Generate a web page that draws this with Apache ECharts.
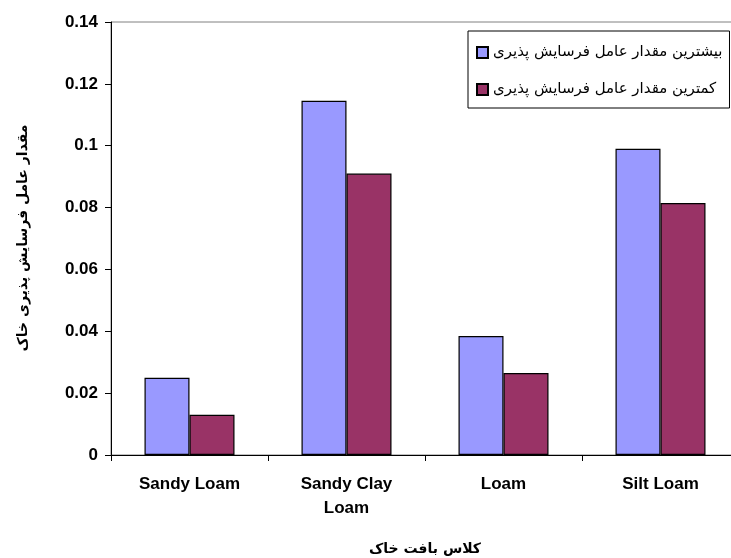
<!DOCTYPE html>
<html>
<head>
<meta charset="utf-8">
<script src="https://cdn.jsdelivr.net/npm/echarts@6/dist/echarts.min.js"></script>
<style>
  html, body { margin: 0; padding: 0; background: #fff; overflow: hidden; }
  #wrap { width: 731px; height: 558px; overflow: hidden; }
  /* the plot area runs past the right edge, so the canvas is wider than the view */
  #chart { width: 760px; height: 558px; }
</style>
</head>
<body>
<div id="wrap"><div id="chart"></div></div>
<script>
// Soil texture classes and erodibility factor values
const categories = ['Sandy Loam', 'Sandy Clay\nLoam', 'Loam', 'Silt Loam'];
const maxSeriesName = 'بیشترین مقدار عامل فرسایش پذیری';
const minSeriesName = 'کمترین مقدار عامل فرسایش پذیری';
const maxValues = [0.025, 0.1145, 0.0385, 0.099];
const minValues = [0.013, 0.091, 0.0265, 0.0815];
const yTickLabels = ['0', '0.02', '0.04', '0.06', '0.08', '0.1', '0.12', '0.14'];
const yAxisTitle = 'مقدار عامل فرسایش پذیری خاک';
const xAxisTitle = 'کلاس بافت خاک';

const latin = '"Liberation Sans", Arial, sans-serif';
const persian = '"DejaVu Sans", "Noto Sans", sans-serif';

const chart = echarts.init(document.getElementById('chart'), null, { renderer: 'canvas' });

chart.setOption({
  animation: false,
  backgroundColor: '#ffffff',
  grid: {
    left: 111, top: 22, width: 628, height: 433,
    show: true, borderColor: '#808080', borderWidth: 1, backgroundColor: 'transparent'
  },
  legend: {
    left: 468, top: 31,
    orient: 'vertical',
    align: 'left',
    itemWidth: 11, itemHeight: 11, itemGap: 22,
    padding: [14, 7, 11, 8],
    borderColor: '#000', borderWidth: 1,
    backgroundColor: '#fff',
    textStyle: { fontFamily: persian, fontSize: 15, color: '#000' },
    data: [
      { name: maxSeriesName, icon: 'rect' },
      { name: minSeriesName, icon: 'rect' }
    ]
  },
  xAxis: {
    type: 'category',
    data: categories,
    axisLine: { lineStyle: { color: '#000', width: 1 } },
    axisTick: { show: true, alignWithLabel: false, length: 6, lineStyle: { color: '#000' } },
    axisLabel: {
      margin: 17,
      fontFamily: latin, fontSize: 17, fontWeight: 'bold', color: '#000',
      lineHeight: 24, interval: 0
    },
    splitLine: { show: false }
  },
  yAxis: {
    type: 'value',
    min: 0, max: 0.14, interval: 0.02,
    axisLine: { show: true, lineStyle: { color: '#000', width: 1 } },
    axisTick: { show: true, inside: false, length: 6, lineStyle: { color: '#000' } },
    axisLabel: {
      margin: 13,
      fontFamily: latin, fontSize: 17, fontWeight: 'bold', color: '#000',
      formatter: v => yTickLabels[Math.round(v / 0.02)]
    },
    splitLine: { show: false }
  },
  graphic: [
    {
      type: 'text',
      rotation: Math.PI / 2,
      x: 23, y: 238,
      style: {
        text: yAxisTitle,
        font: 'bold 14px ' + persian,
        fill: '#000',
        align: 'center', verticalAlign: 'middle'
      }
    },
    {
      type: 'text',
      x: 425, y: 549,
      style: {
        text: xAxisTitle,
        font: 'bold 14px ' + persian,
        fill: '#000',
        align: 'center', verticalAlign: 'middle'
      }
    }
  ],
  series: [
    {
      name: maxSeriesName,
      type: 'bar',
      data: maxValues,
      barWidth: 45,
      barGap: '0%',
      itemStyle: { color: '#9999FF', borderColor: '#000', borderWidth: 1.2 }
    },
    {
      name: minSeriesName,
      type: 'bar',
      data: minValues,
      barWidth: 45,
      barGap: '0%',
      itemStyle: { color: '#993366', borderColor: '#000', borderWidth: 1.2 }
    }
  ]
});
</script>
</body>
</html>
